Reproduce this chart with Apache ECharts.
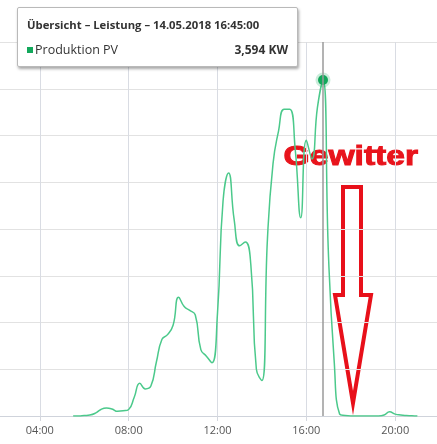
<!DOCTYPE html>
<html>
<head>
<meta charset="utf-8">
<script src="https://cdn.jsdelivr.net/npm/echarts@6/dist/echarts.min.js"></script>
<style>
  html, body { margin: 0; padding: 0; background: #fff; }
  #pvContainer { width: 437px; height: 444px; }
</style>
</head>
<body>
<div id="pvContainer"></div>
<script>
// Leistung Produktion PV am 14.05.2018, 15-Minuten-Werte (KW)
var times = [
  "05:30", "05:45", "06:00", "06:15", "06:30", "06:45", "07:00", "07:15",
  "07:30", "07:45", "08:00", "08:15", "08:30", "08:45", "09:00", "09:15",
  "09:30", "09:45", "10:00", "10:15", "10:30", "10:45", "11:00", "11:15",
  "11:30", "11:45", "12:00", "12:15", "12:30", "12:45", "13:00", "13:15",
  "13:30", "13:45", "14:00", "14:15", "14:30", "14:45", "15:00", "15:15",
  "15:30", "15:45", "16:00", "16:15", "16:30", "16:45", "17:00", "17:15",
  "17:30", "17:45", "18:00", "18:15", "18:30", "18:45", "19:00", "19:15",
  "19:30", "19:45", "20:00", "20:15", "20:30", "20:45", "21:00"
];
var pvValues = [
  0, 0, 0.005, 0.01, 0.03, 0.07, 0.085, 0.075,
  0.05, 0.055, 0.07, 0.2, 0.35, 0.29, 0.32, 0.58,
  0.82, 0.87, 0.97, 1.27, 1.17, 1.13, 1.08, 0.71,
  0.64, 0.57, 1.1, 2.3, 2.6, 2.1, 1.82, 1.86,
  1.62, 0.5, 0.38, 1.9, 2.7, 3.05, 3.28, 3.28,
  2.85, 2.12, 2.95, 2.75, 3.3, 3.594, 1.7, 0.6,
  0.02, 0.005, 0, 0, 0, 0, 0, 0,
  0.01, 0.045, 0.02, 0.01, 0.005, 0.003, 0
];
var xTicks = ["00:00", "04:00", "08:00", "12:00", "16:00", "20:00", "24:00"];
var dayLabel = "14.05.2018";

function toHours(t) {
  var p = t.split(":");
  return Number(p[0]) + Number(p[1]) / 60;
}
var seriesData = times.map(function (t, i) {
  return [toHours(t), pvValues[i]];
});

var peakIndex = pvValues.indexOf(Math.max.apply(null, pvValues));

var myChart = echarts.init(document.getElementById("pvContainer"));
myChart.setOption({
  animation: false,
  grid: {
    left: -49,
    right: -47,
    top: 42,
    bottom: 28,
    outerBoundsMode: "none",
    containLabel: false,
  },
  tooltip: {
    trigger: "axis",
    triggerOn: "none",
    alwaysShowContent: true,
    transitionDuration: 0,
    position: [17, 7],
    padding: 0,
    borderWidth: 0,
    backgroundColor: "transparent",
    extraCssText: "box-shadow:none;",
    axisPointer: {
      type: "line",
      lineStyle: { color: "#9a9a9a", width: 1.5, type: "solid" },
    },
    formatter: function (params) {
      var p = params[0];
      var idx = p.dataIndex;
      var val = pvValues[idx].toFixed(3).replace(".", ",");
      return (
        '<div style="width:261px;padding:9px 9px 8px 9px;background:#fff;border:1px solid #b9b9b9;' +
        'border-radius:2px;box-shadow:1px 2px 3px rgba(0,0,0,0.35);font-family:\'Open Sans\',sans-serif;color:#333;">' +
        '<div style="font-weight:bold;font-size:11.3px;line-height:16px;white-space:nowrap;">Übersicht – Leistung – ' +
        dayLabel + " " + times[idx] + ':00</div>' +
        '<div style="margin-top:8px;font-size:12.5px;line-height:17px;display:flex;justify-content:space-between;">' +
        '<span><span style="display:inline-block;width:6px;height:6px;background:#13a85c;margin-right:2px;vertical-align:1px;"></span>Produktion PV</span>' +
        '<span style="font-weight:bold;font-size:12px;">' + val + ' KW</span></div></div>'
      );
    },
  },
  xAxis: {
    type: "value",
    min: 0,
    max: 24,
    interval: 4,
    axisLine: { show: true, lineStyle: { color: "#cfd3db", width: 1 } },
    axisTick: { show: true, length: 5, lineStyle: { color: "#d4d7de" } },
    axisLabel: {
      color: "#555",
      fontSize: 11,
      fontFamily: "Open Sans",
      margin: 9,
      showMinLabel: false,
      showMaxLabel: false,
      formatter: function (v) {
        return xTicks[v / 4];
      },
    },
    splitLine: { show: true, lineStyle: { color: "#d9dce3", width: 1 } },
  },
  yAxis: {
    type: "value",
    min: 0,
    max: 4,
    interval: 0.5,
    axisLine: { show: false },
    axisTick: { show: false },
    axisLabel: { show: false },
    splitLine: { show: true, lineStyle: { color: "#e2e2e2", width: 1 } },
  },
  series: [
    {
      name: "Produktion PV",
      type: "line",
      data: seriesData,
      smooth: 0.5,
      symbol: "none",
      lineStyle: { color: "#45b77f", width: 1.5 },
      markPoint: {
        symbol: "circle",
        symbolSize: 10,
        itemStyle: {
          color: "#13a85c",
          borderColor: "rgba(19,168,92,0.22)",
          borderWidth: 5,
        },
        label: { show: false },
        data: [{ type: "max" }],
      },
    },
  ],
  graphic: [
    {
      type: "text",
      left: 283,
      top: 143,
      scaleX: 1.2,
      style: {
        text: "Gewitter",
        fill: "#e8141c",
        stroke: "#e8141c",
        lineWidth: 1,
        font: "bold 28px 'Liberation Sans', Arial, sans-serif",
      },
    },
    {
      type: "polygon",
      shape: {
        points: [
          [343, 187], [361, 187], [361, 295], [371, 295],
          [353, 403], [335, 295], [343, 295],
        ],
      },
      style: {
        fill: "#fff",
        stroke: "#e8101a",
        lineWidth: 4,
        lineJoin: "miter",
      },
    },
  ],
});

myChart.dispatchAction({
  type: "showTip",
  seriesIndex: 0,
  dataIndex: peakIndex,
});
</script>
</body>
</html>
